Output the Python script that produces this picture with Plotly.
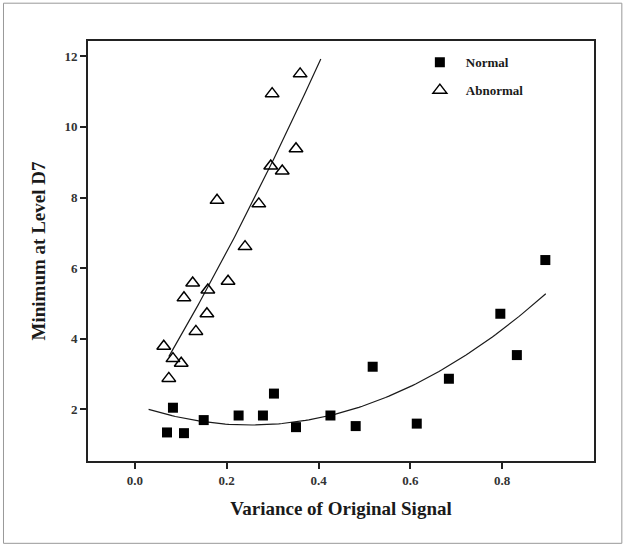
import numpy as np
import plotly.graph_objects as go

# ---- data ----
normal_x = [0.070, 0.083, 0.107, 0.150, 0.226, 0.279, 0.303, 0.351, 0.426,
            0.481, 0.518, 0.614, 0.684, 0.796, 0.832, 0.894]
normal_y = [1.35, 2.05, 1.33, 1.70, 1.83, 1.83, 2.45, 1.50, 1.83,
            1.53, 3.21, 1.60, 2.87, 4.71, 3.54, 6.23]

abnormal_x = [0.063, 0.074, 0.083, 0.101, 0.107, 0.126, 0.133, 0.157, 0.159,
              0.179, 0.203, 0.240, 0.270, 0.296, 0.299, 0.321, 0.351, 0.360]
abnormal_y = [3.79, 2.88, 3.44, 3.31, 5.16, 5.58, 4.21, 4.71, 5.38,
              7.92, 5.63, 6.61, 7.82, 8.89, 10.94, 8.75, 9.38, 11.50]

normal_fit_domain = [0.03, 0.895]
abnormal_fit_domain = [0.074, 0.405]

x_ticks = [0.0, 0.2, 0.4, 0.6, 0.8]
y_ticks = [2, 4, 6, 8, 10, 12]

series_names = ["Normal", "Abnormal"]

# ---- quadratic fits ----
nc = np.polyfit(normal_x, normal_y, 2)
ac = np.polyfit(abnormal_x, abnormal_y, 2)
nfx = np.linspace(normal_fit_domain[0], normal_fit_domain[1], 120)
afx = np.linspace(abnormal_fit_domain[0], abnormal_fit_domain[1], 120)

FONT = "Liberation Serif"
INK = "#1a1a1a"

fig = go.Figure()
fig.add_trace(go.Scatter(x=nfx, y=np.polyval(nc, nfx), mode="lines",
                         line=dict(color=INK, width=1.2), showlegend=False,
                         hoverinfo="skip"))
fig.add_trace(go.Scatter(x=afx, y=np.polyval(ac, afx), mode="lines",
                         line=dict(color=INK, width=1.2), showlegend=False,
                         hoverinfo="skip"))
fig.add_trace(go.Scatter(x=normal_x, y=normal_y, mode="markers", name=series_names[0],
                         legendgroup="n",
                         marker=dict(symbol="square", size=10, color="black")))
fig.add_trace(go.Scatter(x=abnormal_x, y=abnormal_y, mode="markers", name=series_names[1],
                         legendgroup="a",
                         marker=dict(symbol="triangle-up-open", size=12, color="black",
                                     line=dict(width=1.5, color="black"))))

axis_common = dict(showline=True, linecolor="#222", linewidth=2, mirror=True,
                   ticks="outside", ticklen=6, tickwidth=1.5, tickcolor="#222",
                   showgrid=False, zeroline=False,
                   tickfont=dict(family=FONT, size=13, color="#333", weight="bold"))

fig.update_xaxes(range=[-0.102, 1.0], tickvals=x_ticks, tickformat=".1f",
                 title=dict(text="Variance of Original Signal", standoff=15,
                            font=dict(family=FONT, size=19, color=INK, weight="bold")),
                 **axis_common)
fig.update_yaxes(range=[0.542, 12.43], tickvals=y_ticks,
                 title=dict(text="Minimum at Level D7", standoff=14,
                            font=dict(family=FONT, size=19, color=INK, weight="bold")),
                 **axis_common)

fig.update_layout(
    width=627, height=547,
    margin=dict(l=88, r=33, t=41, b=86),
    plot_bgcolor="white", paper_bgcolor="white",
    legend=dict(x=0.644, y=0.985, xanchor="left", yanchor="top",
                bgcolor="rgba(0,0,0,0)", tracegroupgap=8, itemwidth=42,
                font=dict(family=FONT, size=13, color=INK, weight="bold")),
    shapes=[dict(type="rect", xref="paper", yref="paper",
                 x0=-0.167, x1=1.055, y0=-0.196, y1=1.09,
                 line=dict(color="#999", width=1))],
)

fig.write_html("out.html")
